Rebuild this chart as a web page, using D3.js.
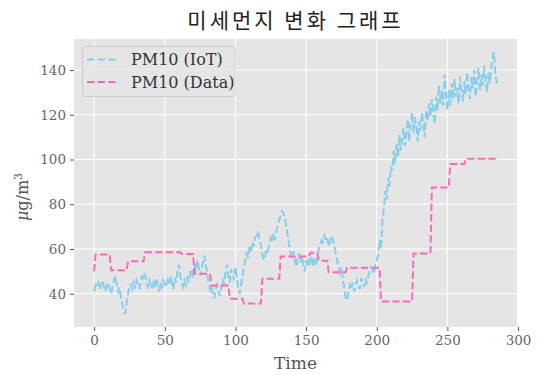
<!DOCTYPE html>
<html>
<head>
<meta charset="utf-8">
<script src="https://cdn.jsdelivr.net/npm/d3@7"></script>
<style>
  body { margin: 0; background: #fff; }
  svg { display: block; }
  text { font-family: "DejaVu Serif", "Noto Sans CJK KR", serif; }
</style>
</head>
<body>
<svg id="chart" width="540" height="375"></svg>
<script>
// PM10 (IoT) - one reading per time step
var iotValues = [
	41, 44, 43, 45, 42, 44, 46, 43, 41, 44, 45,
	42, 40, 43, 46, 48, 44, 41, 43, 38, 35, 33,
	31, 36, 40, 43, 44, 42, 45, 43, 46,
	44, 42, 46, 48, 47, 49, 45, 43, 46, 44,
	42, 45, 43, 47, 44, 41, 45, 43, 46, 44,
	43, 46, 44, 48, 45, 42, 47, 45, 50, 53,
	48, 45, 43, 46, 44, 47, 45, 49, 51, 47,
	53, 50, 55, 52, 48, 51, 54, 57, 53, 49,
	45, 42, 44, 40, 38, 42, 44, 41, 39, 43,
	46, 44, 50, 53, 48, 45, 51, 49, 46, 52,
	47, 42, 40, 44, 48, 52, 55, 58, 56, 61,
	59, 63, 61, 65, 66, 68, 64, 62, 58, 55,
	57, 60, 59, 62, 65, 63, 67, 64, 68, 71,
	73, 75, 77, 76, 74, 70, 66, 62, 58, 56,
	59, 55, 52, 56, 58, 54, 57, 53, 50, 55,
	52, 56, 54, 57, 52, 55, 53, 57, 60, 62,
	64, 63, 66, 64, 65, 61, 63, 66, 64, 62,
	58, 55, 51, 48, 52, 46, 43, 38, 37, 41,
	44, 42, 45, 41, 43, 46, 44, 42, 47, 45,
	43, 47, 45, 48, 50, 52, 51, 49, 53, 55,
	57, 64, 60, 72, 78, 86, 82, 92, 88, 97,
	95, 104, 98, 107, 101, 111, 104, 109, 114, 106,
	112, 118, 108, 116, 121, 112, 119, 115, 108, 117,
	113, 121, 116, 110, 122, 117, 125, 119, 127, 121,
	116, 128, 122, 133, 125, 131, 124, 138, 129, 122,
	131, 124, 134, 127, 136, 128, 132, 125, 137, 130,
	126, 135, 129, 139, 131, 127, 137, 132, 140, 128,
	135, 141, 131, 138, 133, 142, 136, 130, 139, 134,
	140, 146, 148, 138, 134
];

// PM10 (Data) - official station values, stepped
var dataValues = [
	50, 57.5, 57.5, 57.5, 57.5, 57.5, 57.5, 57.5, 57.5, 57.5,
	57.5, 57.5, 50.5, 50.5, 50.5, 50.5, 50.5, 50.5, 50.5, 50.5,
	50.5, 50.5, 50.5, 50.5, 54.5, 54.5, 54.5, 54.5, 54.5, 54.5,
	54.5, 54.5, 54.5, 54.5, 54.5, 54.5, 58.5, 58.5, 58.5, 58.5,
	58.5, 58.5, 58.5, 58.5, 58.5, 58.5, 58.5, 58.5, 58.5, 58.5,
	58.5, 58.5, 58.5, 58.5, 58.5, 58.5, 58.5, 58.5, 58.5, 58.5,
	58.5, 58.5, 57.8, 57.8, 57.8, 57.8, 57.8, 57.8, 57.8, 57.8,
	57.8, 49, 49, 49, 49, 49, 49, 49, 49, 49,
	49, 49, 49, 43.7, 43.7, 43.7, 43.7, 43.7, 43.7, 43.7,
	43.7, 43.7, 43.7, 43.7, 43.7, 43.7, 37.8, 37.8, 37.8, 37.8,
	37.8, 37.8, 37.8, 37.8, 37.8, 37.8, 35.6, 35.6, 35.6, 35.6,
	35.6, 35.6, 35.6, 35.6, 35.6, 35.6, 35.6, 35.6, 35.6, 46.7,
	46.7, 46.7, 46.7, 46.7, 46.7, 46.7, 46.7, 46.7, 46.7, 46.7,
	46.7, 46.7, 56.6, 56.6, 56.6, 56.6, 56.6, 56.6, 56.6, 56.6,
	56.6, 56.6, 56.6, 56.6, 56.6, 56.6, 56.6, 56.6, 56.6, 56.6,
	56.6, 56.6, 56.6, 58.3, 58.3, 58.3, 58.3, 58.3, 58.3, 54.8,
	54.8, 54.8, 54.8, 54.8, 54.8, 54.8, 49.6, 49.6, 49.6, 49.6,
	49.6, 49.6, 49.6, 49.6, 49.6, 49.6, 49.6, 49.6, 49.6, 51.6,
	51.6, 51.6, 51.6, 51.6, 51.6, 51.6, 51.6, 51.6, 51.6, 51.6,
	51.6, 51.6, 51.6, 51.6, 51.6, 51.6, 51.6, 51.6, 51.6, 51.6,
	51.6, 51.6, 51.6, 36.6, 36.6, 36.6, 36.6, 36.6, 36.6, 36.6,
	36.6, 36.6, 36.6, 36.6, 36.6, 36.6, 36.6, 36.6, 36.6, 36.6,
	36.6, 36.6, 36.6, 36.6, 36.6, 36.6, 58, 58, 58, 58,
	58, 58, 58, 58, 58, 58, 58, 58, 58, 87.5,
	87.5, 87.5, 87.5, 87.5, 87.5, 87.5, 87.5, 87.5, 87.5, 87.5,
	87.5, 87.5, 98, 98, 98, 98, 98, 98, 98, 98,
	98, 98, 98, 100.3, 100.3, 100.3, 100.3, 100.3, 100.3, 100.3,
	100.3, 100.3, 100.3, 100.3, 100.3, 100.3, 100.3, 100.3, 100.3, 100.3,
	100.3, 100.3, 100.3, 100.3, 100.3, 100.3
];

var seriesNames = ["PM10 (IoT)", "PM10 (Data)"];
var seriesColors = ["#87CEEB", "#FF69B4"];
var xTicks = [0, 50, 100, 150, 200, 250, 300];
var yTicks = [40, 60, 80, 100, 120, 140];
var titleText = "미세먼지 변화 그래프";
var xLabel = "Time";

(function() {
	var svg = d3.select("#chart");
	var pLeft = 74, pRight = 517, pTop = 39, pBottom = 327;

	// matplotlib-like 5% margins
	var n = iotValues.length;
	var xPad = (n - 1) * 0.05;
	var allY = iotValues.concat(dataValues);
	var yMin = d3.min(allY), yMax = d3.max(allY);
	var yPad = (yMax - yMin) * 0.05;

	var x = d3.scaleLinear().domain([-xPad, n - 1 + xPad]).range([pLeft, pRight]);
	var y = d3.scaleLinear().domain([yMin - yPad, yMax + yPad]).range([pBottom, pTop]);

	// background
	svg.append("rect")
		.attr("x", pLeft).attr("y", pTop)
		.attr("width", pRight - pLeft).attr("height", pBottom - pTop)
		.attr("fill", "#E5E5E5");

	// grid
	svg.append("g").selectAll("line")
		.data(xTicks).enter().append("line")
		.attr("x1", function(d) { return x(d); }).attr("x2", function(d) { return x(d); })
		.attr("y1", pTop).attr("y2", pBottom)
		.attr("stroke", "#fff").attr("stroke-width", 1);
	svg.append("g").selectAll("line")
		.data(yTicks).enter().append("line")
		.attr("x1", pLeft).attr("x2", pRight)
		.attr("y1", function(d) { return y(d); }).attr("y2", function(d) { return y(d); })
		.attr("stroke", "#fff").attr("stroke-width", 1);

	// axes
	var xAxis = svg.append("g")
		.attr("transform", "translate(0," + pBottom + ")")
		.call(d3.axisBottom(x).tickValues(xTicks).tickSize(4).tickPadding(4));
	var yAxis = svg.append("g")
		.attr("transform", "translate(" + pLeft + ",0)")
		.call(d3.axisLeft(y).tickValues(yTicks).tickSize(4).tickPadding(4));
	[xAxis, yAxis].forEach(function(a) {
		a.select(".domain").remove();
		a.selectAll(".tick line").attr("stroke", "#555");
		a.selectAll(".tick text")
			.attr("fill", "#666")
			.style("font-size", "13.5px")
			.style("font-family", '"DejaVu Serif", serif');
	});

	// lines
	var line = d3.line()
		.x(function(d, i) { return x(i); })
		.y(function(d) { return y(d); });

	[iotValues, dataValues].forEach(function(vals, k) {
		svg.append("path")
			.datum(vals)
			.attr("d", line)
			.attr("fill", "none")
			.attr("stroke", seriesColors[k])
			.attr("stroke-width", 2)
			.attr("stroke-dasharray", "7.4,3.2");
	});

	// title and labels
	svg.append("text")
		.attr("x", (pLeft + pRight) / 2).attr("y", 28)
		.attr("text-anchor", "middle")
		.style("font-family", '"Noto Sans CJK KR", sans-serif')
		.style("font-size", "21px")
		.style("letter-spacing", "3px")
		.attr("fill", "#222")
		.text(titleText);

	svg.append("text")
		.attr("x", (pLeft + pRight) / 2).attr("y", 369)
		.attr("text-anchor", "middle")
		.style("font-size", "17px")
		.attr("fill", "#555")
		.text(xLabel);

	var yl = svg.append("text")
		.attr("transform", "translate(28,197) rotate(-90)")
		.attr("text-anchor", "middle")
		.style("font-size", "16px")
		.attr("fill", "#555");
	yl.append("tspan").style("font-style", "italic").text("μ");
	yl.append("tspan").text("g/m");
	yl.append("tspan").attr("dy", -6).style("font-size", "11px").text("3");

	// legend
	var legend = svg.append("g");
	legend.append("rect")
		.attr("x", 82.5).attr("y", 46.5)
		.attr("width", 152.5).attr("height", 50)
		.attr("rx", 3)
		.attr("fill", "#E5E5E5").attr("fill-opacity", 0.8)
		.attr("stroke", "#CCCCCC");
	seriesNames.forEach(function(name, k) {
		var ly = 59.5 + k * 22.5;
		legend.append("line")
			.attr("x1", 87).attr("x2", 117)
			.attr("y1", ly).attr("y2", ly)
			.attr("stroke", seriesColors[k])
			.attr("stroke-width", 2)
			.attr("stroke-dasharray", "7.4,3.2");
		legend.append("text")
			.attr("x", 131).attr("y", ly + 5.5)
			.style("font-size", "16px")
			.attr("fill", "#333")
			.text(name);
	});
})();
</script>
</body>
</html>
